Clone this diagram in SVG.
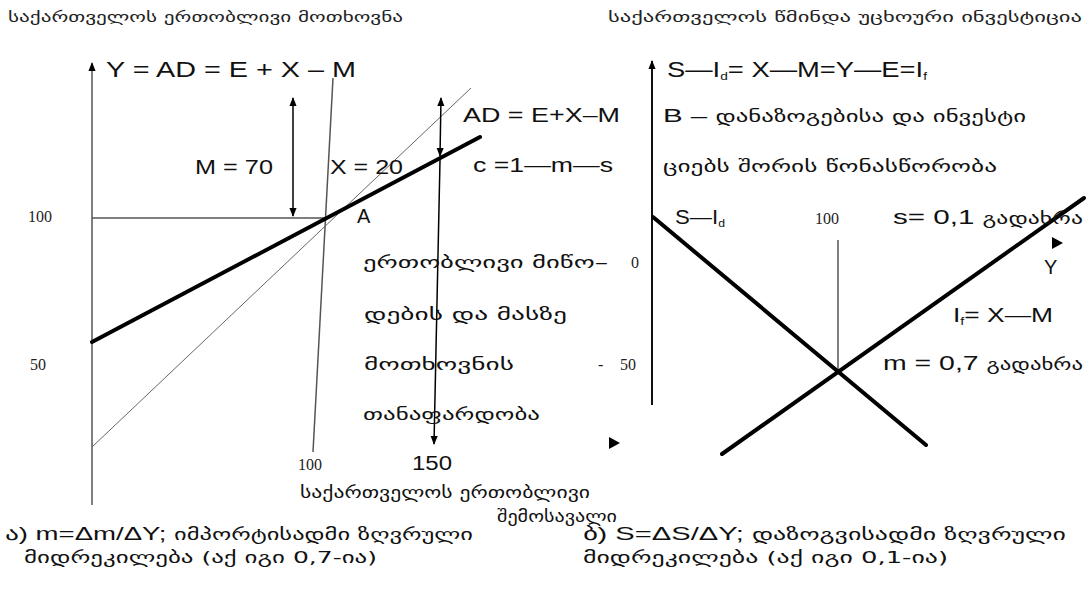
<svg xmlns="http://www.w3.org/2000/svg" width="1091" height="612" viewBox="0 0 1091 612">
<style>
.lat{font-family:"Liberation Sans",Arial,sans-serif;font-size:20px;fill:#111}
.ge{font-family:"DejaVu Sans",sans-serif;font-size:16px;fill:#111}
.ttl{font-family:"DejaVu Sans",sans-serif;font-size:14px;fill:#222}
.num{font-family:"Liberation Serif","Times New Roman",serif;font-size:16px;fill:#222}
.sub{font-size:11px}
.thin{stroke:#555;stroke-width:1.5;fill:none}
.hair{stroke:#666;stroke-width:1;fill:none}
.axis{stroke:#111;stroke-width:2;fill:none}
.thick{stroke:#000;stroke-width:4;fill:none;stroke-linecap:round}
.arr{stroke:#000;stroke-width:1.5;fill:none}
</style>
<defs>
<marker id="ah" viewBox="0 0 10 10" refX="9" refY="5" markerWidth="9" markerHeight="9" markerUnits="userSpaceOnUse" orient="auto-start-reverse">
<path d="M0,1 L10,5 L0,9 z" fill="#000"/>
</marker>
</defs>

<g id="connectors">
<line id="axis-left" class="thin" x1="92" y1="505" x2="92" y2="63" marker-end="url(#ah)"/>
<line id="level-100" class="thin" x1="92" y1="218" x2="328" y2="218"/>
<line id="x100-line" class="thin" x1="333" y1="78" x2="313" y2="452"/>
<line id="diag-45" class="hair" x1="92" y1="447" x2="471" y2="88"/>
<line id="ad-line" class="thick" x1="92" y1="342" x2="480" y2="137"/>
<line id="m-arrow" class="arr" x1="293" y1="98" x2="293" y2="216" marker-start="url(#ah)" marker-end="url(#ah)"/>
<line id="x-arrow-top" class="arr" x1="441" y1="98" x2="440" y2="156" marker-start="url(#ah)" marker-end="url(#ah)"/>
<line id="x-arrow-bottom" class="arr" x1="440" y1="160" x2="434" y2="444" marker-end="url(#ah)"/>
<line id="axis-right" class="axis" x1="652" y1="405" x2="652" y2="61" marker-end="url(#ah)"/>
<line id="y100-right" class="thin" x1="838" y1="240" x2="838" y2="372"/>
<line id="s-id-line" class="thick" x1="653" y1="217" x2="926" y2="445"/>
<line id="if-line" class="thick" x1="722" y1="454" x2="1084" y2="198"/>
<path id="y-arrowhead" d="M1052,237 L1063,243 L1052,249 z" fill="#000"/>
<path id="x-arrowhead" d="M609,437 L620,443 L609,449 z" fill="#000"/>
</g>

<g id="left-chart">
<text class="ttl" x="8" y="22" textLength="395" lengthAdjust="spacingAndGlyphs">საქართველოს ერთობლივი მოთხოვნა</text>
<text class="lat" x="106" y="77" textLength="250" lengthAdjust="spacingAndGlyphs" style="font-size:22px">Y = AD = E + X – M</text>
<text class="lat" x="195" y="174" textLength="78" lengthAdjust="spacingAndGlyphs">M = 70</text>
<text class="lat" x="330" y="174" textLength="73" lengthAdjust="spacingAndGlyphs">X = 20</text>
<text class="lat" x="357" y="223">A</text>
<text class="lat" x="463" y="122" textLength="157" lengthAdjust="spacingAndGlyphs">AD = E+X–M</text>
<text class="lat" x="473" y="172" textLength="140" lengthAdjust="spacingAndGlyphs">c =1—m—s</text>
<text class="num" x="28" y="222">100</text>
<text class="num" x="30" y="370">50</text>
<text class="num" x="298" y="470">100</text>
<text class="lat" x="412" y="470" textLength="40" lengthAdjust="spacingAndGlyphs">150</text>
<text class="ge" x="363" y="268" textLength="245" lengthAdjust="spacingAndGlyphs">ერთობლივი მიწო–</text>
<text class="ge" x="364" y="320" textLength="203" lengthAdjust="spacingAndGlyphs">დების და მასზე</text>
<text class="ge" x="364" y="370" textLength="150" lengthAdjust="spacingAndGlyphs">მოთხოვნის</text>
<text class="ge" x="363" y="420" textLength="177" lengthAdjust="spacingAndGlyphs">თანაფარდობა</text>
<text class="ge" x="300" y="498" textLength="290" lengthAdjust="spacingAndGlyphs">საქართველოს ერთობლივი</text>
<text class="ge" x="497" y="522" textLength="120" lengthAdjust="spacingAndGlyphs">შემოსავალი</text>
</g>

<g id="right-chart">
<text class="ttl" x="608" y="22" textLength="474" lengthAdjust="spacingAndGlyphs">საქართველოს წმინდა უცხოური ინვესტიცია</text>
<text class="lat" x="667" y="77" textLength="260" lengthAdjust="spacingAndGlyphs" style="font-size:22px">S—I<tspan class="sub" dy="3">d</tspan><tspan dy="-3">= X—M=Y—E=I</tspan><tspan class="sub" dy="3">f</tspan></text>
<text class="ge" x="663" y="122" textLength="363" lengthAdjust="spacingAndGlyphs"><tspan class="lat" style="font-size:19px">B – </tspan>დანაზოგებისა და ინვესტი</text>
<text class="ge" x="663" y="172" textLength="334" lengthAdjust="spacingAndGlyphs">ციებს შორის წონასწორობა</text>
<text class="lat" x="675" y="224" textLength="50" lengthAdjust="spacingAndGlyphs">S—I<tspan class="sub" dy="3">d</tspan></text>
<text class="num" x="815" y="224">100</text>
<text class="lat" x="893" y="224" textLength="190" lengthAdjust="spacingAndGlyphs">s= 0,1 <tspan class="ge">გადახრა</tspan></text>
<text class="lat" x="1044" y="274">Y</text>
<text class="lat" x="953" y="322" textLength="100" lengthAdjust="spacingAndGlyphs">I<tspan class="sub" dy="3">f</tspan><tspan dy="-3">= X—M</tspan></text>
<text class="lat" x="883" y="370" textLength="200" lengthAdjust="spacingAndGlyphs">m = 0,7 <tspan class="ge">გადახრა</tspan></text>
<text class="num" x="631" y="268">0</text>
<text class="num" x="598" y="370">-</text>
<text class="num" x="620" y="370">50</text>
</g>

<g id="captions">
<text class="ge" x="5" y="540" textLength="468" lengthAdjust="spacingAndGlyphs"><tspan class="lat" style="font-size:18px">ა) m=Δm/ΔY;   </tspan>იმპორტისადმი ზღვრული</text>
<text class="ge" x="24" y="563" textLength="353" lengthAdjust="spacingAndGlyphs">მიდრეკილება  (აქ  იგი  0,7-ია)</text>
<text class="ge" x="583" y="540" textLength="483" lengthAdjust="spacingAndGlyphs"><tspan class="lat" style="font-size:18px">ბ) S=ΔS/ΔY; </tspan>დაზოგვისადმი  ზღვრული</text>
<text class="ge" x="583" y="563" textLength="365" lengthAdjust="spacingAndGlyphs">მიდრეკილება  (აქ  იგი  0,1-ია)</text>
</g>
</svg>
